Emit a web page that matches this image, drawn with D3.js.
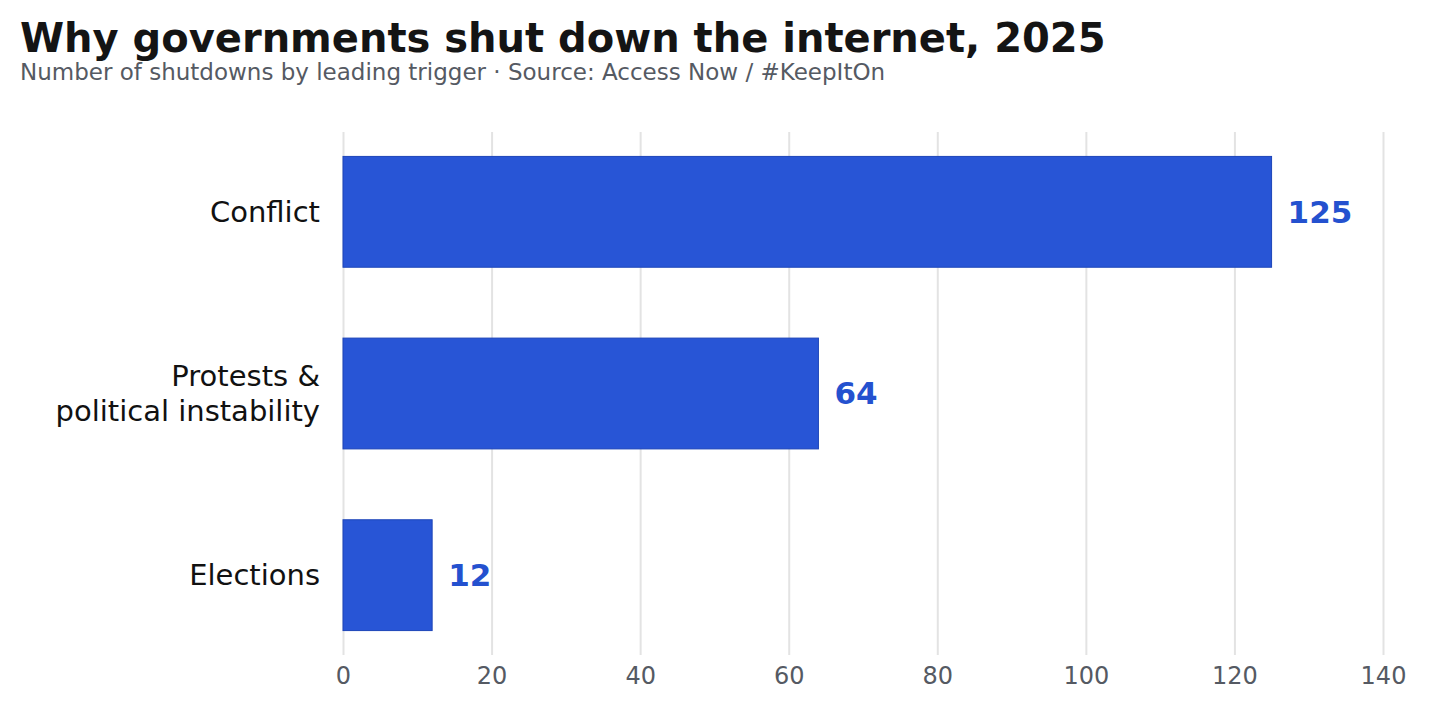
<!DOCTYPE html>
<html><head><meta charset="utf-8">
<script src="https://cdn.jsdelivr.net/npm/d3@7"></script>
<style>body{margin:0;background:#fff;font-family:"DejaVu Sans",sans-serif}</style>
</head><body><div id="chart"></div>
<script>
const categories = [['Conflict'], ['Protests &', 'political instability'], ['Elections']];
const values = [125, 64, 12];
const tickValues = [0, 20, 40, 60, 80, 100, 120, 140];

const width = 1440, height = 712;
const svg = d3.select('#chart').append('svg').attr('width', width).attr('height', height);

const x = d3.scaleLinear().domain([0, 140]).range([343, 1383]);
const y = d3.scaleBand().domain(d3.range(categories.length))
    .range([121, 666]).paddingInner(0.39).paddingOuter(0.195);

svg.append('text').attr('x', 20).attr('y', 52)
    .style('font-size', '40px').style('font-weight', 'bold').attr('fill', '#141414')
    .text('Why governments shut down the internet, 2025');
svg.append('text').attr('x', 20).attr('y', 80)
    .style('font-size', '23px').attr('fill', '#555a63')
    .text('Number of shutdowns by leading trigger  \u00b7  Source: Access Now / #KeepItOn');

const xAxis = svg.append('g').attr('transform', 'translate(0,655)')
    .call(d3.axisBottom(x).tickValues(tickValues).tickSize(-523).tickPadding(12));
xAxis.select('.domain').remove();
xAxis.selectAll('line').attr('stroke', '#e3e3e3').attr('stroke-width', 2);
xAxis.selectAll('text').style('font-size', '24px').attr('fill', '#555a63')
    .style('font-family', '"DejaVu Sans",sans-serif');

svg.selectAll('.bar').data(values).enter().append('rect')
    .attr('x', x(0)).attr('y', (d, i) => y(i))
    .attr('width', d => x(d) - x(0)).attr('height', y.bandwidth())
    .attr('fill', '#2855d6').attr('stroke', '#1d45b8').attr('stroke-width', 1);

svg.selectAll('.val').data(values).enter().append('text')
    .attr('x', d => x(d) + 16).attr('y', (d, i) => y(i) + y.bandwidth() / 2)
    .attr('dy', '0.35em').style('font-size', '31px').style('font-weight', 'bold')
    .attr('fill', '#2451cf').text(d => d);

categories.forEach((lines, i) => {
    const t = svg.append('text').attr('text-anchor', 'end').attr('x', 320)
        .attr('y', y(i) + y.bandwidth() / 2).style('font-size', '29px').attr('fill', '#111');
    lines.forEach((l, j) => {
        t.append('tspan').attr('x', 320)
            .attr('dy', j === 0 ? (0.35 - (lines.length - 1) * 0.6) + 'em' : '1.2em').text(l);
    });
});
</script></body></html>
